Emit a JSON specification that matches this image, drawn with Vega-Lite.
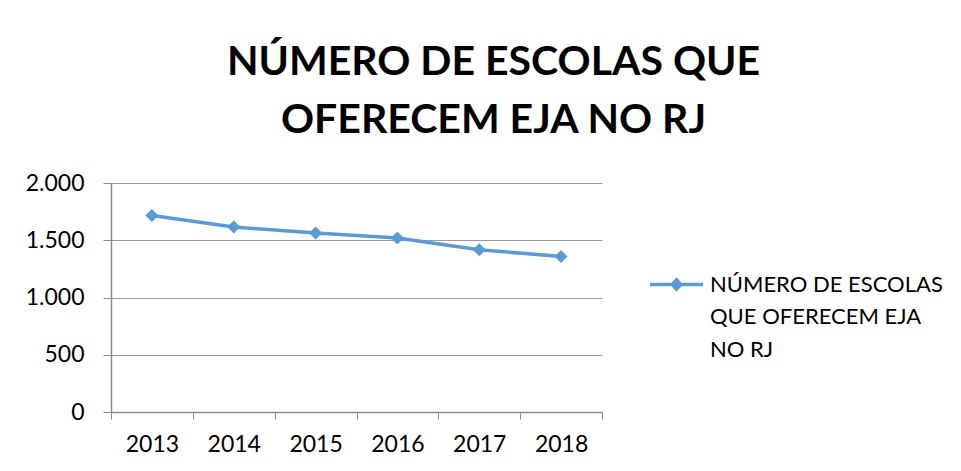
{
  "$schema": "https://vega.github.io/schema/vega-lite/v6.json",
  "autosize": {"type": "none"},
  "padding": {"left": 111, "top": 183, "right": 359, "bottom": 59},
  "width": 491,
  "height": 229,
  "background": "white",
  "title": {
    "text": ["NÚMERO DE ESCOLAS QUE", "OFERECEM EJA NO RJ"],
    "font": "Lato",
    "fontSize": 41,
    "fontWeight": "bold",
    "color": "#000000",
    "anchor": "middle",
    "frame": "group",
    "dx": 137,
    "dy": 46,
    "lineHeight": 58,
    "offset": 44,
    "baseline": "alphabetic"
  },
  "data": {
    "values": [
      {"ano": "2013", "serie": "NÚMERO DE ESCOLAS QUE OFERECEM EJA NO RJ", "valor": 1717},
      {"ano": "2014", "serie": "NÚMERO DE ESCOLAS QUE OFERECEM EJA NO RJ", "valor": 1615},
      {"ano": "2015", "serie": "NÚMERO DE ESCOLAS QUE OFERECEM EJA NO RJ", "valor": 1563},
      {"ano": "2016", "serie": "NÚMERO DE ESCOLAS QUE OFERECEM EJA NO RJ", "valor": 1519},
      {"ano": "2017", "serie": "NÚMERO DE ESCOLAS QUE OFERECEM EJA NO RJ", "valor": 1417},
      {"ano": "2018", "serie": "NÚMERO DE ESCOLAS QUE OFERECEM EJA NO RJ", "valor": 1358}
    ]
  },
  "mark": {
    "type": "line",
    "strokeWidth": 3.5,
    "point": {"shape": "diamond", "size": 170, "filled": true}
  },
  "encoding": {
    "x": {
      "field": "ano",
      "type": "ordinal",
      "scale": {"paddingInner": 0, "paddingOuter": 0},
      "axis": {
        "title": null,
        "labelAngle": 0,
        "tickBand": "extent",
        "tickSize": 7,
        "tickColor": "#8C8C8C",
        "domainColor": "#8C8C8C",
        "domainWidth": 1.5,
        "labelFont": "Lato",
        "labelFontSize": 23,
        "labelColor": "#000000",
        "labelPadding": 14,
        "grid": false
      }
    },
    "y": {
      "field": "valor",
      "type": "quantitative",
      "scale": {"domain": [0, 2000]},
      "axis": {
        "title": null,
        "values": [0, 500, 1000, 1500, 2000],
        "labelExpr": "replace(format(datum.value, ','), ',', '.')",
        "tickSize": 8,
        "tickColor": "#8C8C8C",
        "domainColor": "#8C8C8C",
        "domainWidth": 1.5,
        "gridColor": "#9A9A9A",
        "gridWidth": 1.2,
        "labelFont": "Lato",
        "labelFontSize": 23,
        "labelColor": "#000000",
        "labelPadding": 19
      }
    },
    "color": {
      "field": "serie",
      "type": "nominal",
      "scale": {"range": ["#5B9BD5"]},
      "legend": {
        "title": null,
        "orient": "none",
        "legendX": 539,
        "legendY": 75,
        "padding": 0,
        "symbolType": "M-1,-0.066H1V0.066H-1Z M0,-0.27L0.25,0L0,0.27L-0.25,0Z",
        "symbolSize": 2809,
        "symbolStrokeWidth": 0,
        "symbolFillColor": "#5B9BD5",
        "labelExpr": "['NÚMERO DE ESCOLAS', 'QUE OFERECEM EJA', 'NO RJ']",
        "labelFont": "Lato",
        "labelFontSize": 22,
        "labelColor": "#000000",
        "labelOffset": 7,
        "labelLimit": 400
      }
    }
  },
  "config": {
    "view": {"stroke": null},
    "style": {"guide-label": {"lineHeight": 32.5}}
  }
}
